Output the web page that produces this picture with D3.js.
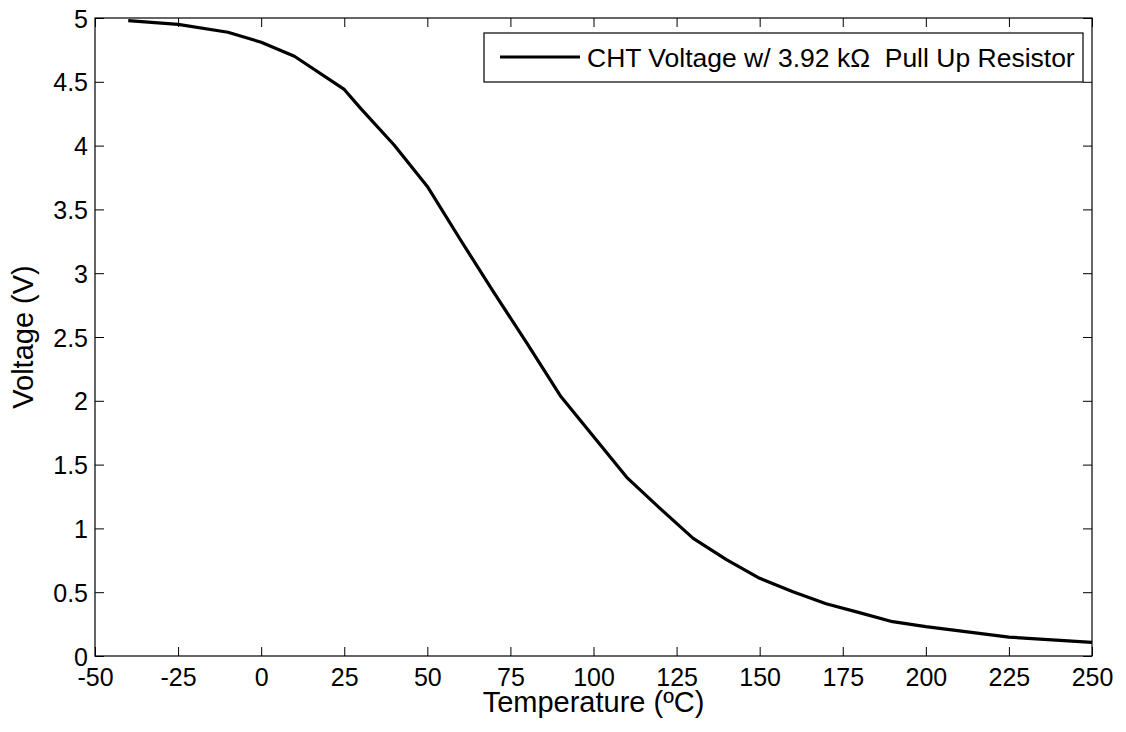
<!DOCTYPE html>
<html><head><meta charset="utf-8">
<script src="https://cdn.jsdelivr.net/npm/d3@7"></script>
<style>body{margin:0;background:#fff}svg{display:block}text{font-family:"Liberation Sans",Arial,sans-serif;fill:#000}</style>
</head><body><svg id="c" width="1126" height="732"></svg>
<script>
const temps = [-40,-25,-10,0,10,25,30,40,50,60,70,80,90,100,110,120,130,140,150,160,170,180,190,200,225,250];
const volts = [4.98,4.95,4.888,4.81,4.70,4.44,4.29,4.005,3.68,3.26,2.85,2.45,2.04,1.72,1.40,1.157,0.922,0.755,0.609,0.503,0.41,0.34,0.269,0.23,0.148,0.107];
const xTicks = [-50,-25,0,25,50,75,100,125,150,175,200,225,250];
const yTicks = [0,0.5,1,1.5,2,2.5,3,3.5,4,4.5,5];
const seriesName = "CHT Voltage w/ 3.92 k\u03A9\u00A0 Pull Up Resistor";
const xLabel = "Temperature (\u00BAC)";
const yLabel = "Voltage (V)";

const L=95,R=1092,T=18,B=656;
const svg=d3.select("#c");
const x=d3.scaleLinear().domain([-50,250]).range([L,R]);
const y=d3.scaleLinear().domain([0,5]).range([B,T]);
const tickFont=25;

const gx=svg.append("g").attr("transform",`translate(0,${B})`)
  .call(d3.axisBottom(x).tickValues(xTicks).tickSize(-9).tickFormat(d=>String(d)));
const gxt=svg.append("g").attr("transform",`translate(0,${T})`)
  .call(d3.axisTop(x).tickValues(xTicks).tickSize(-9).tickFormat(""));
const gy=svg.append("g").attr("transform",`translate(${L},0)`)
  .call(d3.axisLeft(y).tickValues(yTicks).tickSize(-9).tickFormat(d=>String(d)));
const gyr=svg.append("g").attr("transform",`translate(${R},0)`)
  .call(d3.axisRight(y).tickValues(yTicks).tickSize(-9).tickFormat(""));
[gx,gxt,gy,gyr].forEach(g=>{g.select(".domain").remove();g.selectAll("line").attr("stroke","#000");
  g.selectAll("text").style("font-size",tickFont+"px").attr("fill","#000");});
gx.selectAll("text").attr("dy","0.71em").attr("y",12);
gy.selectAll("text").attr("x",-7).attr("dy","0.36em");

svg.append("rect").attr("x",L).attr("y",T).attr("width",R-L).attr("height",B-T)
  .attr("fill","none").attr("stroke","#000").attr("stroke-width",1.2);

const line=d3.line().x((d,i)=>x(temps[i])).y(d=>y(d));
svg.append("path").datum(volts).attr("d",line).attr("fill","none").attr("stroke","#000").attr("stroke-width",3.2).attr("stroke-linejoin","round");

svg.append("text").attr("x",(L+R)/2).attr("y",712).attr("text-anchor","middle").style("font-size","29px").text(xLabel);
svg.append("text").attr("transform",`translate(33,${(T+B)/2}) rotate(-90)`).attr("text-anchor","middle").style("font-size","29px").text(yLabel);

// legend
const lg=svg.append("g");
lg.append("rect").attr("x",484).attr("y",33).attr("width",599).attr("height",49).attr("fill","#fff").attr("stroke","#000").attr("stroke-width",1.2);
lg.append("line").attr("x1",500).attr("x2",580).attr("y1",57).attr("y2",57).attr("stroke","#000").attr("stroke-width",3.2);
lg.append("text").attr("x",587).attr("y",57).attr("dy","0.36em").style("font-size","26.5px").text(seriesName);
</script></body></html>
